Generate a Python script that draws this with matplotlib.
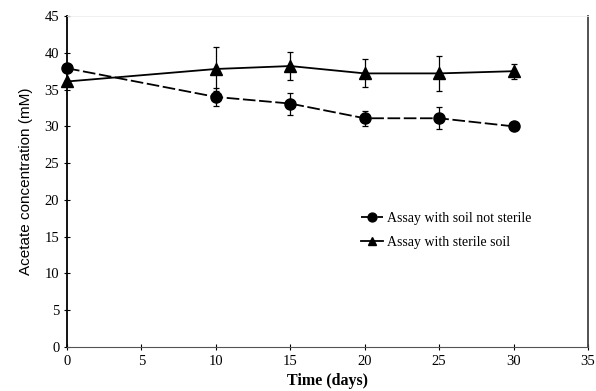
import matplotlib.pyplot as plt

days = [0, 10, 15, 20, 25, 30]

# soil not sterile
nonsterile = [37.9, 34.0, 33.1, 31.1, 31.1, 30.0]
nonsterile_err = [0.0, 1.2, 1.5, 1.0, 1.5, 0.3]

# sterile soil
sterile = [36.1, 37.8, 38.2, 37.2, 37.2, 37.5]
sterile_err = [0.0, 3.0, 1.9, 1.9, 2.4, 1.0]

x_ticks = [0, 5, 10, 15, 20, 25, 30, 35]
y_ticks = [0, 5, 10, 15, 20, 25, 30, 35, 40, 45]

serif = 'Liberation Serif'

fig = plt.figure(figsize=(5.96, 3.91), dpi=100)
ax = fig.add_axes([0.1124, 0.1125, 0.8742, 0.8465])

eb1 = ax.errorbar(days, nonsterile, yerr=nonsterile_err, color='black', lw=1.3,
                  dashes=(7, 2), marker='o', ms=8, capsize=2, elinewidth=0.9,
                  capthick=0.9, clip_on=False)
eb2 = ax.errorbar(days, sterile, yerr=sterile_err, color='black', lw=1.3,
                  marker='^', ms=8, capsize=2, elinewidth=0.9, capthick=0.9,
                  clip_on=False)

ax.set_xlim(0, 35)
ax.set_ylim(0, 45)
ax.set_xticks(x_ticks)
ax.set_yticks(y_ticks)
ax.tick_params(direction='inout', length=4, width=0.8, labelsize=10.5)
for lab in ax.get_xticklabels() + ax.get_yticklabels():
    lab.set_fontfamily(serif)

ax.spines['left'].set_linewidth(1.3)
ax.spines['bottom'].set_linewidth(0.8)
ax.spines['bottom'].set_color('#555555')
ax.spines['right'].set_linewidth(1.3)
ax.spines['right'].set_color('#444444')
ax.spines['top'].set_linewidth(0.6)
ax.spines['top'].set_color('#eeeeee')

ax.set_xlabel('Time (days)', fontfamily=serif, fontweight='bold',
              fontsize=11.5, labelpad=4)
ax.set_ylabel('Acetate concentration (mM)', fontfamily='Liberation Sans',
              fontsize=11, labelpad=8)

# legend shows only the line + marker, no error bars
ax.legend(handles=[eb1.lines[0], eb2.lines[0]],
          labels=['Assay with soil not sterile', 'Assay with sterile soil'],
          loc='upper left', bbox_to_anchor=(0.54, 0.445), frameon=False,
          prop={'family': serif, 'size': 10}, handlelength=1.6,
          handletextpad=0.3, labelspacing=0.75, markerscale=0.8)

fig.savefig('out.png', dpi=100)
